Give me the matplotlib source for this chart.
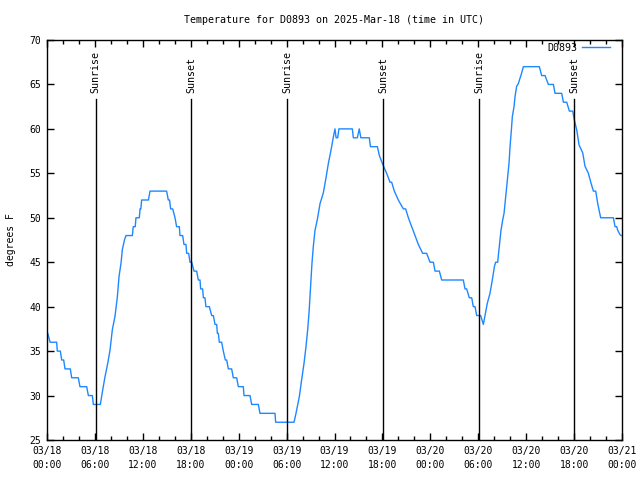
import matplotlib
matplotlib.use("Agg")
import matplotlib.pyplot as plt
from matplotlib.ticker import MultipleLocator

# ---- data (hours since 2025-03-18 00:00 UTC, degrees F) ----
hours = [0, 0.1, 0.38, 1.21, 1.29, 1.67, 1.84, 2.09, 2.25, 2.92, 3.09, 3.92, 4.13, 4.97,
         5.18, 5.68, 5.8, 6.68, 6.97, 7.26, 7.6, 7.89, 8.18, 8.51, 8.81, 9.02, 9.27, 9.43,
         9.7, 9.89, 10.69, 10.8, 11.05, 11.14, 11.56, 11.65, 11.75, 11.85, 12.7, 12.9, 14.98,
         15.19, 15.35, 15.48, 15.74, 16.03, 16.23, 16.57, 16.65, 16.99, 17.15, 17.4, 17.49,
         17.74, 17.91, 18.12, 18.41, 18.74, 18.95, 19.16, 19.24, 19.49, 19.58, 19.78, 19.9,
         20.33, 20.62, 20.83, 21.04, 21.25, 21.33, 21.45, 21.58, 21.87, 22.08, 22.33, 22.5,
         22.71, 23.12, 23.33, 23.75, 23.96, 24.58, 24.67, 25.42, 25.63, 26.46, 26.67, 28.55,
         28.63, 30.93, 31.18, 31.6, 31.89, 32.18, 32.43, 32.64, 32.81, 32.93, 33.06, 33.18,
         33.35, 33.56, 33.85, 34.19, 34.6, 34.9, 35.23, 35.56, 35.86, 36.06, 36.2, 36.4,
         36.55, 38.23, 38.36, 38.86, 39.1, 39.3, 40.36, 40.5, 41.37, 41.62, 42.04, 42.53,
         42.95, 43.16, 43.49, 43.99, 44.62, 44.91, 45.25, 45.67, 46.09, 46.5, 47.04, 47.54,
         47.96, 48.38, 48.59, 49.13, 49.42, 52.13, 52.34, 52.55, 52.88, 53.18, 53.38, 53.6,
         53.8, 54.3, 54.64, 54.85, 55.14, 55.47, 55.76, 56.02, 56.18, 56.43, 56.6, 56.72,
         56.85, 57.06, 57.23, 57.44, 57.56, 57.69, 57.85, 57.98, 58.15, 58.27, 58.48, 58.6,
         58.81, 59.02, 59.44, 59.65, 61.65, 61.94, 62.36, 62.57, 62.78, 63.41, 63.61, 64.45,
         64.66, 65.08, 65.41, 65.83, 66.03, 66.33, 66.62, 67.08, 67.37, 67.79, 68.12, 68.42,
         68.71, 68.96, 69.33, 70.92, 71.13, 71.34, 71.46, 71.75, 71.9]
temps = [37, 37, 36, 36, 35, 35, 34, 34, 33, 33, 32, 32, 31, 31,
         30, 30, 29, 29, 30.6, 32.1, 33.6, 35.1, 37.4, 38.9, 41.1, 43.4, 44.9, 46.4,
         47.5, 48, 48, 49, 49, 50, 50, 51, 51, 52, 52, 53, 53,
         52, 52, 51, 51, 50, 49, 49, 48, 48, 47, 47, 46,
         46, 45, 45, 44, 44, 43, 43, 42, 42, 41, 41, 40,
         40, 39, 39, 38, 38, 37, 37, 36, 36, 35, 34, 34,
         33, 33, 32, 32, 31, 31, 30, 30, 29, 29, 28, 28,
         27, 27, 28, 29.9, 31.8, 33.6, 35.5, 37.4, 39.3, 41.1, 43, 44.9,
         46.8, 48.6, 49.8, 51.6, 52.8, 54.3, 56.1, 57.6, 59.1, 60, 59, 59,
         60, 60, 59, 59, 60, 59, 59, 58, 58, 57, 56, 55,
         54, 54, 53, 52, 51, 51, 50, 49, 48, 47, 46, 46,
         45, 45, 44, 44, 43, 43, 42, 42, 41, 41, 40, 40,
         39, 39, 38, 39, 40.4, 41.5, 43, 44.5, 45, 45, 46.4, 47.5,
         48.6, 49.75, 50.5, 52.4, 53.5, 54.6, 56.1, 58, 59.9, 61.4, 62.5, 63.6,
         64.8, 65.1, 66.3, 67, 67, 66, 66, 65.5, 65, 65, 64, 64,
         63, 63, 62, 62, 61, 59.9, 58.2, 57.3, 55.8, 55, 53.9, 53,
         53, 51.6, 50, 50, 49, 49, 48.6, 48.1, 48]

sun_events = [("Sunrise", 6.1), ("Sunset", 18.05), ("Sunrise", 30.05),
              ("Sunset", 42.1), ("Sunrise", 54.12), ("Sunset", 66.03)]

xtick_pos = [0, 6, 12, 18, 24, 30, 36, 42, 48, 54, 60, 66, 72]
xtick_labels = ["03/18\n00:00", "03/18\n06:00", "03/18\n12:00", "03/18\n18:00",
                "03/19\n00:00", "03/19\n06:00", "03/19\n12:00", "03/19\n18:00",
                "03/20\n00:00", "03/20\n06:00", "03/20\n12:00", "03/20\n18:00",
                "03/21\n00:00"]
series_name = "D0893"
title = "Temperature for D0893 on 2025-Mar-18 (time in UTC)"
ylabel = "degrees F"

# ---- plot ----
plt.rcParams['font.family'] = ['DejaVu Sans Mono']
fs = 7
fig = plt.figure(figsize=(6.4, 4.8), dpi=100)
ax = fig.add_axes([47/640, 40/480, 575/640, 400/480])

ax.plot(hours, temps, color='#1e88ff', lw=1.0, label=series_name)

for name, t in sun_events:
    ax.plot([t, t], [25, 63.35], color='black', lw=1.0)
    ax.text(t, 64.0, name, rotation=90, ha='center', va='bottom', fontsize=fs + 0.2)

ax.set_xlim(0, 72)
ax.set_ylim(25, 70)
ax.set_xticks(xtick_pos)
ax.set_xticklabels(xtick_labels, fontsize=fs, linespacing=1.5)
ax.xaxis.set_minor_locator(MultipleLocator(2))
ax.yaxis.set_major_locator(MultipleLocator(5))
ax.tick_params(axis='y', labelsize=fs)
ax.tick_params(which='major', direction='in', length=5, width=1, top=True, right=True, pad=4)
ax.tick_params(which='minor', direction='in', length=3, width=1, top=True, right=False)
ax.tick_params(axis='y', which='minor', left=False, right=False)
for s in ax.spines.values():
    s.set_linewidth(1.0)

ax.set_title(title, fontsize=fs + 0.2, pad=12)
ax.set_ylabel(ylabel, fontsize=fs, labelpad=10)

ax.legend(loc='upper right', frameon=False, markerfirst=False, fontsize=fs + 0.2,
          handlelength=2.8, borderaxespad=0, borderpad=0, handletextpad=0.5,
          bbox_to_anchor=(1 - 12/575, 1 - 3/400))

fig.savefig("out.png", dpi=100)
